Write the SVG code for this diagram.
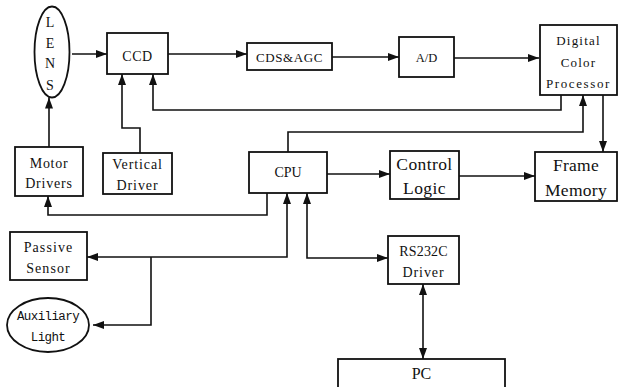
<svg xmlns="http://www.w3.org/2000/svg" width="620" height="387" viewBox="0 0 620 387">
<defs>
<marker id="ah" viewBox="0 0 11 8" refX="11" refY="4" markerUnits="userSpaceOnUse" markerWidth="11" markerHeight="8" orient="auto-start-reverse">
<path d="M0,0 L11,4 L0,8 z" fill="#111"/>
</marker>
<style>
.box{fill:#fff;stroke:#111;stroke-width:1.8}
.t{font-family:"Liberation Serif","Times New Roman",serif;font-size:14px;fill:#111;text-anchor:middle}
.m{font-family:"Liberation Mono","Courier New",monospace;font-size:12.5px;letter-spacing:-0.6px;fill:#111;text-anchor:middle}
.c{fill:none;stroke:#111;stroke-width:1.6}
.e{marker-end:url(#ah)}
.b{marker-start:url(#ah);marker-end:url(#ah)}
</style>
</defs>
<rect width="620" height="387" fill="#fff"/>
<g id="connectors">
<path class="c e" d="M72,54 H107"/>
<path class="c e" d="M168,54 H247"/>
<path class="c e" d="M332,57 H399"/>
<path class="c e" d="M454,58 H539"/>
<path class="c e" d="M561,95 V110 H153 V74"/>
<path class="c e" d="M288,152 V132 H583 V95"/>
<path class="c e" d="M603,95 V152"/>
<path class="c e" d="M49,147 V97.5"/>
<path class="c e" d="M140,153 V128 H122 V74"/>
<path class="c e" d="M327,174 H390"/>
<path class="c e" d="M459,176 H535"/>
<path class="c e" d="M267,193 V215 H48 V196"/>
<path class="c b" d="M87,257 H287 V193"/>
<path class="c e" d="M151,257 V325 H93"/>
<path class="c b" d="M307,193 V258 H388"/>
<path class="c b" d="M423,284 V359"/>
</g>
<g id="lens">
<ellipse class="box" cx="52" cy="52" rx="17.5" ry="45.5"/>
<text class="t" x="50" y="27">L</text>
<text class="t" x="50" y="48">E</text>
<text class="t" x="50" y="68">N</text>
<text class="t" x="50" y="90">S</text>
</g>
<g id="ccd">
<rect class="box" x="107" y="33" width="61" height="41"/>
<text class="t" x="137.5" y="61" style="letter-spacing:0.5px">CCD</text>
</g>
<g id="cdsagc">
<rect class="box" x="247" y="43" width="85" height="27"/>
<text class="t" x="289.5" y="61.5" style="font-size:13px;letter-spacing:0.6px">CDS&amp;AGC</text>
</g>
<g id="ad">
<rect class="box" x="399" y="37" width="55" height="40"/>
<text class="t" x="426.5" y="61.5" style="font-size:12.5px">A/D</text>
</g>
<g id="dcp">
<rect class="box" x="540" y="25" width="77" height="70"/>
<text class="t" x="578.5" y="44.5" style="font-size:13px;letter-spacing:1.2px">Digital</text>
<text class="t" x="578.5" y="66.5" style="font-size:13px;letter-spacing:1.2px">Color</text>
<text class="t" x="578.5" y="87.5" style="font-size:13px;letter-spacing:1.6px">Processor</text>
</g>
<g id="motor-drivers">
<rect class="box" x="15" y="147" width="68" height="49"/>
<text class="t" x="49" y="168" style="letter-spacing:0.7px">Motor</text>
<text class="t" x="49" y="188" style="letter-spacing:0.8px">Drivers</text>
</g>
<g id="vertical-driver">
<rect class="box" x="103" y="153" width="69" height="41"/>
<text class="t" x="137.5" y="169" style="letter-spacing:0.9px">Vertical</text>
<text class="t" x="137.5" y="190" style="letter-spacing:0.9px">Driver</text>
</g>
<g id="cpu">
<rect class="box" x="249" y="152" width="78" height="41"/>
<text class="t" x="288" y="177">CPU</text>
</g>
<g id="control-logic">
<rect class="box" x="390" y="151" width="69" height="48"/>
<text class="t" x="424.5" y="170" style="font-size:17.5px;letter-spacing:0.4px">Control</text>
<text class="t" x="424.5" y="194" style="font-size:17.5px;letter-spacing:0.4px">Logic</text>
</g>
<g id="frame-memory">
<rect class="box" x="535" y="152" width="82" height="49"/>
<text class="t" x="576" y="171" style="font-size:17.5px;letter-spacing:0.3px">Frame</text>
<text class="t" x="576" y="196" style="font-size:17.5px;letter-spacing:0.3px">Memory</text>
</g>
<g id="passive-sensor">
<rect class="box" x="10" y="232" width="77" height="48"/>
<text class="t" x="48.5" y="252" style="letter-spacing:1.1px">Passive</text>
<text class="t" x="48.5" y="273" style="letter-spacing:1.1px">Sensor</text>
</g>
<g id="auxiliary-light">
<ellipse class="box" cx="48" cy="325" rx="41" ry="27"/>
<text class="m" x="48" y="320">Auxiliary</text>
<text class="m" x="48" y="341">Light</text>
</g>
<g id="rs232c">
<rect class="box" x="388" y="236" width="71" height="48"/>
<text class="t" x="423.5" y="256" style="letter-spacing:0.2px">RS232C</text>
<text class="t" x="423.5" y="277" style="letter-spacing:0.9px">Driver</text>
</g>
<g id="pc">
<rect class="box" x="338" y="359" width="167" height="40"/>
<text class="t" x="421.5" y="379" style="font-size:16px">PC</text>
</g>
</svg>
